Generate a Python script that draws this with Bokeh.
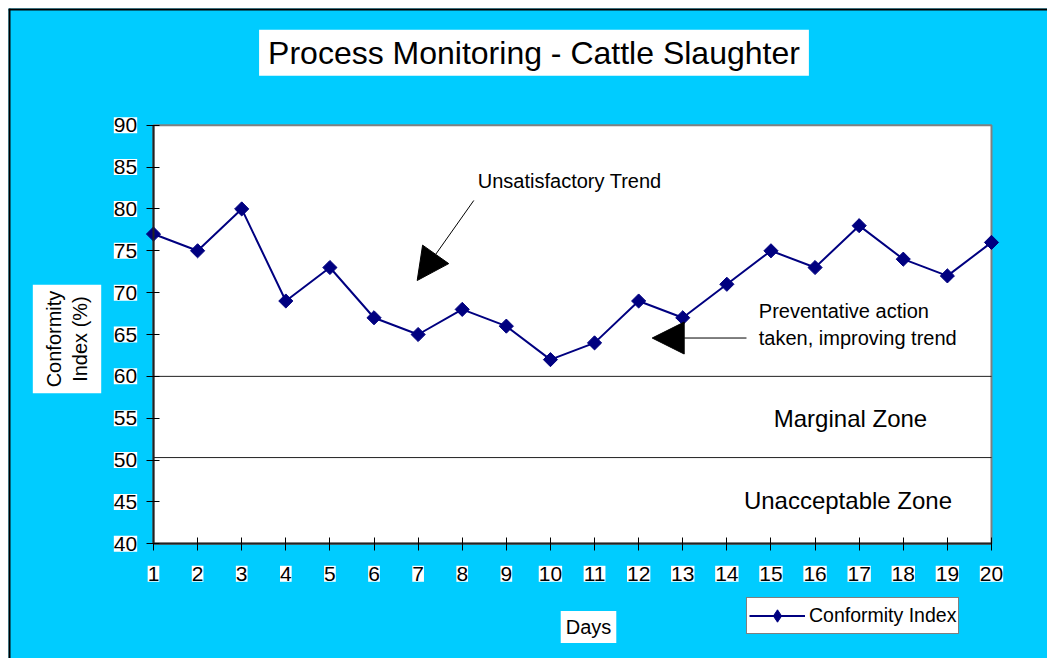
import math
from bokeh.plotting import figure
from bokeh.models import (Range1d, FixedTicker, Label, Span, Arrow, NormalHead,
                          ColumnDataSource, LinearAxis, Legend, LegendItem)
from bokeh.embed import file_html
from bokeh.resources import INLINE

# ---- data ----
days = list(range(1, 21))
conformity = [77, 75, 80, 69, 73, 67, 65, 68, 66, 62, 64, 69, 67, 71, 75, 73, 78, 74, 72, 76]
y_ticks = [40, 45, 50, 55, 60, 65, 70, 75, 80, 85, 90]
x_tick_labels = [str(d) for d in days]
y_tick_labels = [str(v) for v in y_ticks]
zone_lines = [60, 50.3]
title_text = "Process Monitoring - Cattle Slaughter"
series_name = "Conformity Index"

FONT = "Liberation Sans"
CYAN = "#00CCFF"
NAVY = "#000080"

X0, X1 = -2.2876, 21.270
Y0, Y1 = 26.30, 103.94

p = figure(width=1039, height=650, output_backend="svg", toolbar_location=None,
           x_range=Range1d(X0, X1), y_range=Range1d(Y0, Y1),
           x_axis_location=None, y_axis_location=None,
           min_border=0, margin=(8, 0, 0, 8))
p.border_fill_color = CYAN
p.background_fill_color = CYAN
p.outline_line_color = None
p.grid.visible = False

# outer frame edges (left / top)
p.add_layout(Span(location=X0, dimension="height", line_color="black", line_width=4))
p.add_layout(Span(location=Y1, dimension="width", line_color="black", line_width=4))

# plot area
p.quad(left=[days[0]], right=[days[-1]], bottom=[y_ticks[0]], top=[y_ticks[-1]],
       fill_color="white", line_color="#808080", line_width=2)

# zone lines
p.segment(x0=[days[0]] * len(zone_lines), x1=[days[-1]] * len(zone_lines),
          y0=zone_lines, y1=zone_lines, line_color="#202020", line_width=1)

xax = LinearAxis(fixed_location=y_ticks[0], bounds=(days[0], days[-1]),
                 ticker=FixedTicker(ticks=days))
yax = LinearAxis(fixed_location=days[0], bounds=(y_ticks[0], y_ticks[-1]),
                 ticker=FixedTicker(ticks=y_ticks))
for ax in (xax, yax):
    ax.major_label_text_color = None
    ax.major_label_standoff = 0
    ax.axis_line_color = "#222222"
    ax.axis_line_width = 2
    ax.major_tick_line_color = "black"
    ax.major_tick_line_width = 1
    ax.major_tick_in = 6
    ax.major_tick_out = 7
    ax.minor_tick_line_color = None
p.add_layout(xax, "below")
p.add_layout(yax, "left")

src = ColumnDataSource(dict(x=days, y=conformity))
line_r = p.line("x", "y", source=src, line_color=NAVY, line_width=2)
p.scatter("x", "y", source=src, marker="square", angle=math.pi / 4, size=10,
          fill_color=NAVY, line_color=NAVY)
# legend swatch marker (diamond), not placed on the plot
key_r = p.scatter(x=[float("nan")], y=[float("nan")], marker="diamond", size=17,
                  fill_color=NAVY, line_color=NAVY)

leg = Legend(items=[LegendItem(label=series_name, renderers=[line_r, key_r])])
leg.location = (738, 24)
leg.border_line_color = "black"
leg.border_line_width = 1
leg.background_fill_color = "white"
leg.background_fill_alpha = 1
leg.padding = 2
leg.margin = 0
leg.spacing = 0
leg.glyph_width = 56
leg.glyph_height = 31
leg.label_height = 31
leg.label_standoff = 4
leg.label_text_font = FONT
leg.label_text_font_size = "19.5px"
leg.label_text_color = "black"
p.add_layout(leg)

# tick labels with white boxes
for d, t in zip(days, x_tick_labels):
    p.add_layout(Label(x=d, y=36.42, text=t, text_align="center", text_baseline="middle",
                       text_font=FONT, text_font_size="21px", text_color="black",
                       background_fill_color="white", padding=(0, 1)))
for v, t in zip(y_ticks, y_tick_labels):
    p.add_layout(Label(x=0.63, y=v, text=t, text_align="right", text_baseline="middle",
                       text_font=FONT, text_font_size="21px", text_color="black",
                       background_fill_color="white", padding=(0, 1)))

# title
p.add_layout(Label(x=9.627, y=98.65, text=title_text, text_align="center", text_baseline="middle",
                   text_font=FONT, text_font_size="32px", text_color="black",
                   background_fill_color="white", padding=(9, 5)))
# axis titles
p.add_layout(Label(x=-0.961, y=64.46, text="Conformity\nIndex (%)", angle=math.pi / 2,
                   text_align="center", text_baseline="middle", text_font=FONT,
                   text_font_size="20px", text_color="black",
                   background_fill_color="white", padding=(6, 10)))
p.add_layout(Label(x=10.863, y=30.06, text="Days", text_align="center", text_baseline="middle",
                   text_font=FONT, text_font_size="20px", text_color="black",
                   background_fill_color="white", padding=(5, 5)))

# annotations
p.add_layout(Label(x=8.353, y=83.28, text="Unsatisfactory Trend", text_align="left",
                   text_baseline="middle", text_font=FONT, text_font_size="20px",
                   text_color="black"))
p.add_layout(Label(x=14.724, y=67.75, text="Preventative action", text_align="left",
                   text_baseline="middle", text_font=FONT, text_font_size="20px",
                   text_color="black"))
p.add_layout(Label(x=14.724, y=64.64, text="taken, improving trend", text_align="left",
                   text_baseline="middle", text_font=FONT, text_font_size="20px",
                   text_color="black"))
p.add_layout(Label(x=16.803, y=54.97, text="Marginal Zone", text_align="center",
                   text_baseline="middle", text_font=FONT, text_font_size="24px",
                   text_color="black"))
p.add_layout(Label(x=16.746, y=45.17, text="Unacceptable Zone", text_align="center",
                   text_baseline="middle", text_font=FONT, text_font_size="24px",
                   text_color="black"))

p.add_layout(Arrow(x_start=8.262, y_start=81.01, x_end=6.979, y_end=71.45,
                   line_color="black", line_width=1,
                   end=NormalHead(size=32, fill_color="black", line_color="black")))
p.add_layout(Arrow(x_start=14.445, y_start=64.58, x_end=12.307, y_end=64.58,
                   line_color="black", line_width=1,
                   end=NormalHead(size=32, fill_color="black", line_color="black")))

open("out.html", "w").write(file_html(p, INLINE))
